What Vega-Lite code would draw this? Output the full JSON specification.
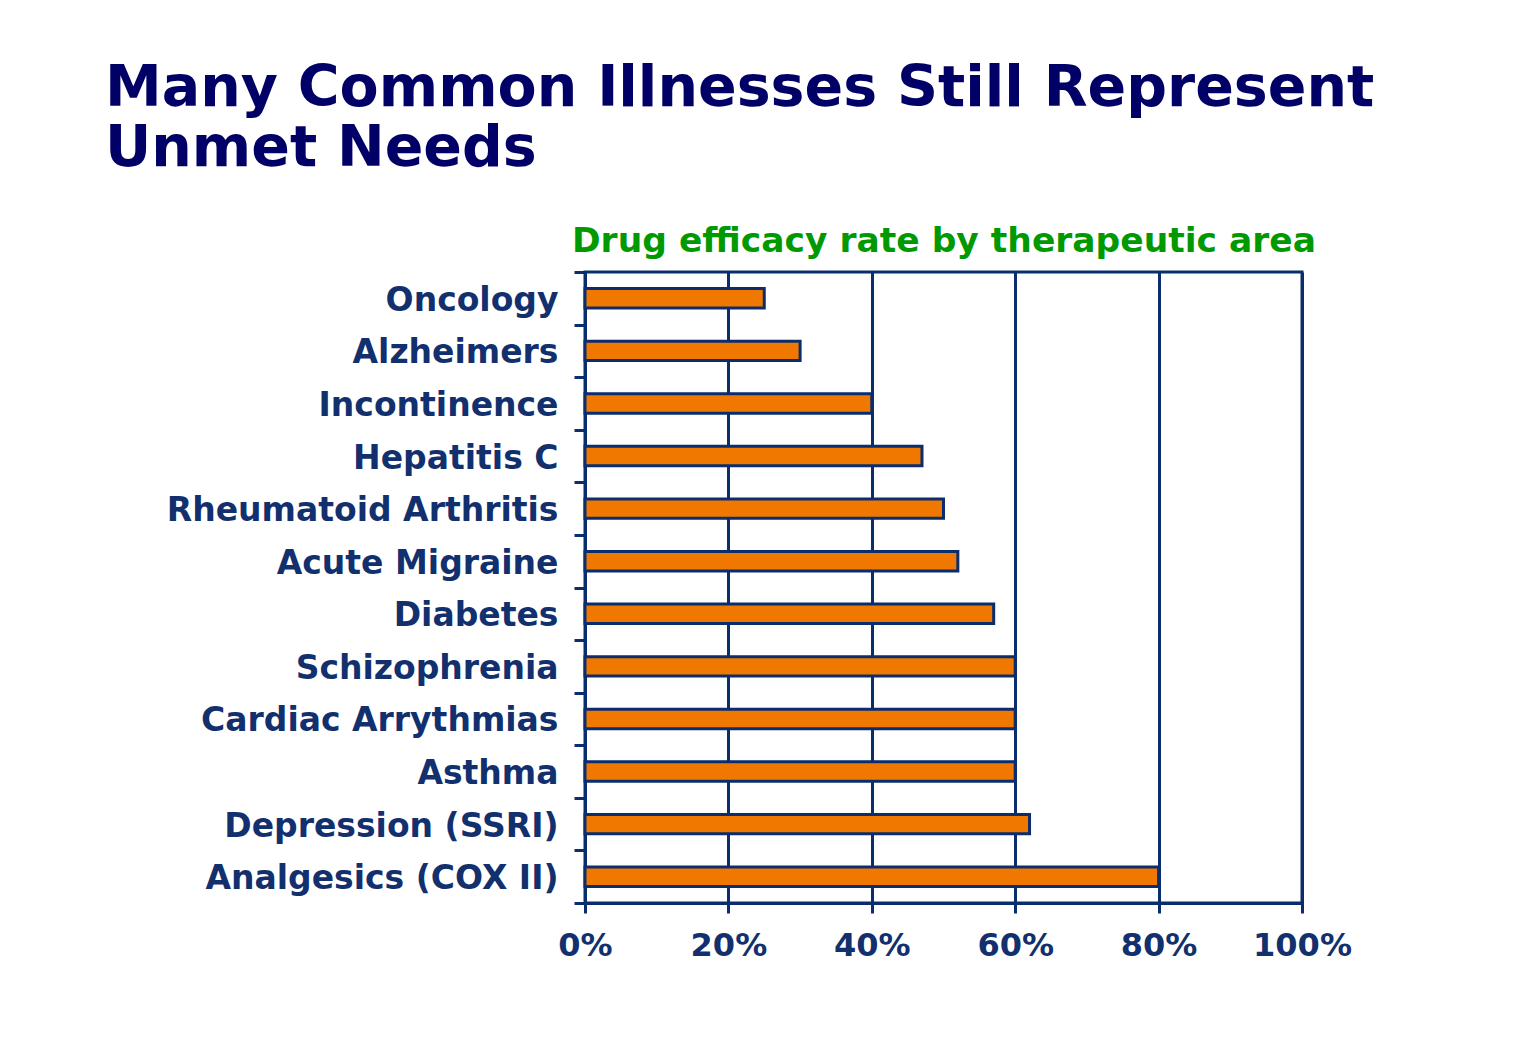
{
  "$schema": "https://vega.github.io/schema/vega-lite/v6.json",
  "autosize": {"type": "none"},
  "width": 717,
  "height": 631,
  "padding": {"left": 585, "top": 272, "right": 216, "bottom": 161},
  "background": "white",
  "title": {
    "text": ["Many Common Illnesses Still Represent", "Unmet Needs"],
    "anchor": "start",
    "frame": "group",
    "dx": -480,
    "offset": 45,
    "font": "DejaVu Sans",
    "fontWeight": "bold",
    "fontSize": 57,
    "lineHeight": 60,
    "color": "#000066"
  },
  "data": {
    "values": [
      {"area": "Oncology", "rate": 0.25},
      {"area": "Alzheimers", "rate": 0.30},
      {"area": "Incontinence", "rate": 0.40},
      {"area": "Hepatitis C", "rate": 0.47},
      {"area": "Rheumatoid Arthritis", "rate": 0.50},
      {"area": "Acute Migraine", "rate": 0.52},
      {"area": "Diabetes", "rate": 0.57},
      {"area": "Schizophrenia", "rate": 0.60},
      {"area": "Cardiac Arrythmias", "rate": 0.60},
      {"area": "Asthma", "rate": 0.60},
      {"area": "Depression (SSRI)", "rate": 0.62},
      {"area": "Analgesics (COX II)", "rate": 0.80}
    ]
  },
  "config": {
    "view": {"stroke": "#0a2d6e", "strokeWidth": 3},
    "axis": {
      "labelFont": "DejaVu Sans",
      "labelFontWeight": "bold",
      "labelColor": "#12306e",
      "domainColor": "#0a2d6e",
      "domainWidth": 3,
      "tickColor": "#0a2d6e",
      "tickWidth": 3,
      "gridColor": "#0a2d6e",
      "gridWidth": 3,
      "gridOpacity": 1,
      "domainCap": "square"
    }
  },
  "resolve": {"axis": {"x": "independent"}},
  "layer": [
    {
      "mark": {"type": "bar", "fill": "#f07800", "stroke": null, "height": {"band": 0.37}},
      "encoding": {
        "y": {
          "field": "area",
          "type": "nominal",
          "sort": null,
          "scale": {"paddingInner": 0, "paddingOuter": 0},
          "axis": {
            "title": null,
            "labelFontSize": 33,
            "labelPadding": 16,
            "labelOffset": 2,
            "tickSize": 11,
            "tickBand": "extent",
            "grid": false,
            "labelLimit": 600
          }
        },
        "x": {
          "field": "rate",
          "type": "quantitative",
          "scale": {"domain": [0, 1], "nice": false},
          "axis": {
            "orient": "bottom",
            "title": null,
            "values": [0, 0.2, 0.4, 0.6, 0.8, 1],
            "format": ".0%",
            "labelFontSize": 32,
            "labelPadding": 17,
            "tickSize": 10,
            "grid": true,
            "labelFlush": false
          }
        }
      }
    },
    {
      "mark": {"type": "bar", "fill": null, "fillOpacity": 0, "stroke": "#0a2d6e", "strokeWidth": 3, "height": {"band": 0.37}},
      "encoding": {
        "y": {"field": "area", "type": "nominal", "sort": null},
        "x": {
          "field": "rate",
          "type": "quantitative",
          "axis": {
            "orient": "top",
            "title": "Drug efficacy rate by therapeutic area",
            "titleFont": "DejaVu Sans",
            "titleFontWeight": "bold",
            "titleFontSize": 34.5,
            "titleColor": "#009900",
            "titlePadding": 14,
            "labels": false,
            "ticks": false,
            "domain": false,
            "grid": false
          }
        }
      }
    }
  ]
}
